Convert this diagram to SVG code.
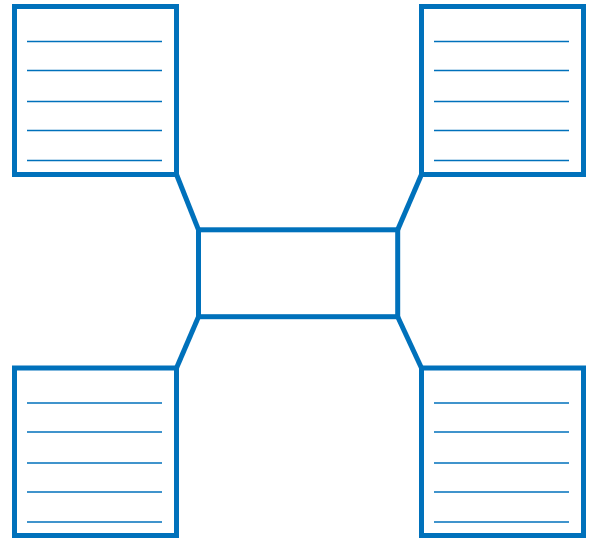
<svg xmlns="http://www.w3.org/2000/svg" width="592" height="540" viewBox="0 0 592 540">
<style>
.box{fill:#fff;stroke:#0071BB;stroke-width:5}
.ln{stroke:#0071BB;stroke-width:1.3}
.con{stroke:#0071BB;stroke-width:5;fill:none}
</style>
<defs>
<g id="lines">
<line class="ln" x1="12.5" y1="35" x2="147.5" y2="35"/>
<line class="ln" x1="12.5" y1="64" x2="147.5" y2="64"/>
<line class="ln" x1="12.5" y1="95" x2="147.5" y2="95"/>
<line class="ln" x1="12.5" y1="124" x2="147.5" y2="124"/>
<line class="ln" x1="12.5" y1="154" x2="147.5" y2="154"/>
</g>
</defs>
<g id="connectors">
<line class="con" x1="176.5" y1="174.5" x2="198.5" y2="229.8"/>
<line class="con" x1="421.5" y1="174.5" x2="397.7" y2="229.8"/>
<line class="con" x1="198.5" y1="316.7" x2="176.5" y2="368"/>
<line class="con" x1="397.7" y1="316.7" x2="421.5" y2="368"/>
</g>
<g id="center"><rect class="box" x="198.5" y="229.8" width="199.2" height="86.9"/></g>
<g id="box-tl"><rect class="box" x="14.5" y="6.5" width="162" height="168"/><use href="#lines" x="14.5" y="6.5"/></g>
<g id="box-tr"><rect class="box" x="421.5" y="6.5" width="162" height="168"/><use href="#lines" x="421.5" y="6.5"/></g>
<g id="box-bl"><rect class="box" x="14.5" y="368" width="162" height="167.5"/><use href="#lines" x="14.5" y="368"/></g>
<g id="box-br"><rect class="box" x="421.5" y="368" width="162" height="167.5"/><use href="#lines" x="421.5" y="368"/></g>
</svg>
